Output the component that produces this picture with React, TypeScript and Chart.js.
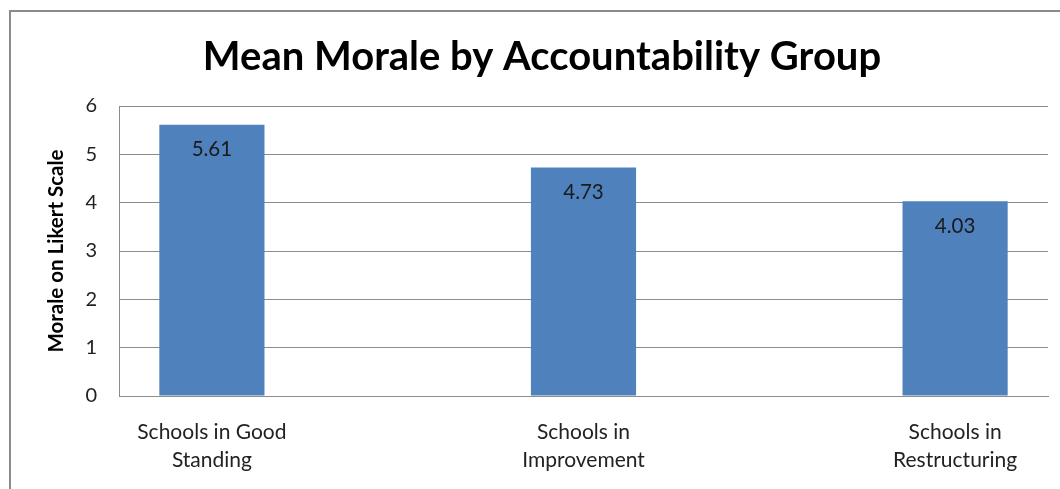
import React, { useEffect, useRef } from "react";
import { Chart, registerables } from "chart.js";

Chart.register(...registerables);

const CATEGORIES = ["Schools in Good Standing", "Schools in Improvement", "Schools in Restructuring"];
const CATEGORY_LINES = [
  ["Schools in Good", "Standing"],
  ["Schools in", "Improvement"],
  ["Schools in", "Restructuring"],
];
const MEAN_MORALE = [5.61, 4.73, 4.03];
const Y_TICKS = [0, 1, 2, 3, 4, 5, 6];
const TITLE = "Mean Morale by Accountability Group";
const Y_TITLE = "Morale on Likert Scale";

const FONT = "Lato, 'Noto Sans', sans-serif";
const GRID = "#8c8c8c";
const BAR = "#4f81bd";

const framePlugin = {
  id: "frame",
  beforeDraw(chart: any) {
    const ctx = chart.ctx;
    ctx.save();
    ctx.fillStyle = "#ffffff";
    ctx.fillRect(0, 0, chart.width, chart.height);
    ctx.strokeStyle = "#8a8a8a";
    ctx.lineWidth = 2;
    ctx.beginPath();
    ctx.moveTo(10, chart.height);
    ctx.lineTo(10, 11);
    ctx.lineTo(chart.width, 11);
    ctx.stroke();
    ctx.restore();
  },
};

const valueLabelPlugin = {
  id: "valueLabels",
  afterDatasetsDraw(chart: any) {
    const ctx = chart.ctx;
    const meta = chart.getDatasetMeta(0);
    ctx.save();
    ctx.font = `20.5px ${FONT}`;
    ctx.fillStyle = "#1a1a1a";
    ctx.textAlign = "center";
    ctx.textBaseline = "middle";
    meta.data.forEach((bar: any, i: number) => {
      const v = chart.data.datasets[0].data[i].y;
      ctx.fillText(v.toFixed(2), bar.x, bar.y + 25);
    });
    ctx.restore();
  },
};

export default function App() {
  const ref = useRef<HTMLCanvasElement>(null);
  useEffect(() => {
    if (!ref.current) return;
    const chart = new Chart(ref.current, {
      type: "bar",
      data: {
        datasets: [
          {
            label: "Mean Morale",
            data: MEAN_MORALE.map((v, i) => ({ x: i, y: v })),
            backgroundColor: BAR,
            borderWidth: 0,
            barPercentage: 0.283,
            categoryPercentage: 1,
          },
        ],
      },
      options: {
        responsive: false,
        animation: false,
        layout: { padding: { left: 36, right: 12, top: 0, bottom: 0 } },
        plugins: {
          legend: { display: false },
          tooltip: { enabled: false },
          title: {
            display: true,
            text: TITLE,
            color: "#000000",
            font: { family: FONT, size: 40, weight: "bold", lineHeight: 1.2 },
            padding: { top: 33, bottom: 25 },
          },
        },
        scales: {
          x: {
            type: "linear",
            min: -0.25,
            max: 2.25,
            offset: false,
            afterBuildTicks: (axis: any) => {
              axis.ticks = CATEGORIES.map((_, i) => ({ value: i }));
            },
            afterFit: (scale: any) => {
              scale.height = 93;
            },
            grid: { display: false, drawTicks: false },
            border: { display: true, color: GRID, width: 1 },
            ticks: {
              autoSkip: false,
              maxRotation: 0,
              padding: 22,
              color: "#222222",
              font: { family: FONT, size: 21, lineHeight: 28 / 21 },
              callback: (value: any) => CATEGORY_LINES[Number(value)] ?? "",
            },
          },
          y: {
            min: 0,
            max: 6,
            afterBuildTicks: (axis: any) => {
              axis.ticks = Y_TICKS.map((v) => ({ value: v }));
            },
            afterFit: (scale: any) => {
              scale.width = 83;
            },
            grid: { color: GRID, drawTicks: false, lineWidth: 1 },
            border: { display: true, color: GRID, width: 1 },
            ticks: {
              padding: 22,
              color: "#222222",
              font: { family: FONT, size: 20 },
            },
            title: {
              display: true,
              text: Y_TITLE,
              color: "#000000",
              font: { family: FONT, size: 20.5, weight: "bold", lineHeight: 1.2 },
              padding: { top: 8, bottom: 0 },
            },
          },
        },
      },
      plugins: [framePlugin, valueLabelPlugin],
    } as any);
    return () => chart.destroy();
  }, []);
  return (
    <div style={{ position: "absolute", left: 0, top: 0, width: 1060, height: 489 }}>
      <canvas ref={ref} width={1060} height={489} />
    </div>
  );
}
